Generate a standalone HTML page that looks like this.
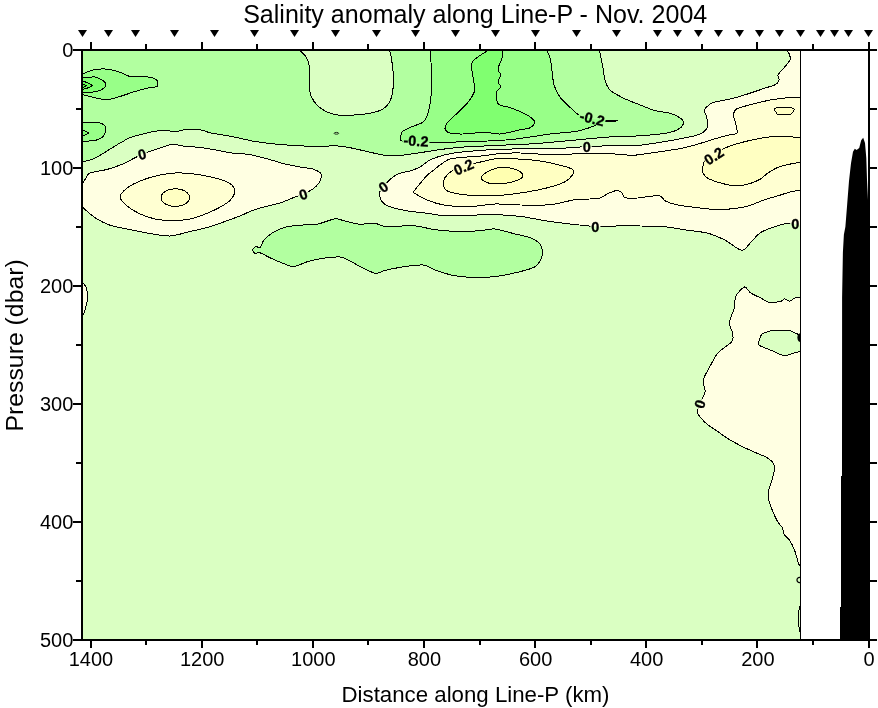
<!DOCTYPE html>
<html><head><meta charset="utf-8"><title>Salinity anomaly along Line-P</title>
<style>html,body{margin:0;padding:0;background:#fff}svg{display:block}</style></head>
<body>
<svg width="878" height="708" viewBox="0 0 878 708" style="display:block">
<rect width="878" height="708" fill="#fff"/>
<defs><clipPath id="cp"><rect x="83" y="51" width="717" height="588"/></clipPath>
<mask id="mk" maskUnits="userSpaceOnUse" x="0" y="0" width="878" height="708"><rect width="878" height="708" fill="#fff"/><rect x="137.0" y="149.3" width="10" height="10" fill="#000" transform="rotate(-15 142 154.3)"/><rect x="298.2" y="189.4" width="10" height="10" fill="#000" transform="rotate(-18 303.2 194.4)"/><rect x="378.4" y="181.9" width="10" height="10" fill="#000" transform="rotate(-35 383.4 186.9)"/><rect x="402.5" y="135.8" width="27" height="10" fill="#000" transform="rotate(3 416 140.8)"/><rect x="578.7" y="113.3" width="27" height="10" fill="#000" transform="rotate(14 592.2 118.3)"/><rect x="453.0" y="162.0" width="21" height="10" fill="#000" transform="rotate(-24 463.5 167)"/><rect x="581.7" y="141.8" width="10" height="10" fill="#000" transform="rotate(0 586.7 146.8)"/><rect x="590.4" y="221.5" width="10" height="10" fill="#000" transform="rotate(0 595.4 226.5)"/><rect x="703.3" y="151.0" width="21" height="10" fill="#000" transform="rotate(-33 713.8 156)"/><rect x="790.2" y="218.9" width="10" height="10" fill="#000" transform="rotate(0 795.2 223.9)"/><rect x="694.9" y="399.0" width="10" height="10" fill="#000" transform="rotate(-72 699.9 404)"/></mask></defs>
<g clip-path="url(#cp)">
<rect x="83" y="51" width="717" height="588" fill="#daffc2"/>
<path d="M83.0 162.0C84.4 161.6 90.9 159.7 93.3 158.8C95.7 157.9 97.6 156.7 100.0 155.3C102.4 153.9 107.7 150.6 110.2 149.0C112.7 147.4 116.0 145.4 118.0 144.2C120.0 143.0 122.7 141.5 124.4 140.6C126.1 139.7 126.4 138.8 130.0 137.6C133.6 136.4 145.4 133.3 150.0 132.3C154.6 131.3 159.4 130.4 163.0 130.3C166.6 130.2 172.2 131.7 175.4 131.6C178.6 131.5 182.0 129.9 185.5 129.6C189.0 129.3 197.1 129.4 200.5 129.8C203.9 130.2 206.6 132.0 210.0 132.8C213.4 133.6 220.8 134.5 225.0 135.3C229.2 136.1 235.8 137.4 240.0 138.3C244.2 139.2 250.1 140.7 255.0 141.5C259.9 142.3 268.7 143.4 275.0 144.0C281.3 144.6 293.7 145.5 300.0 145.8C306.3 146.2 315.4 146.5 320.3 146.5C325.2 146.5 331.1 145.6 335.3 145.8C339.5 146.0 345.5 146.9 350.4 147.8C355.3 148.7 365.5 151.2 370.4 152.3C375.3 153.4 381.3 154.9 385.5 155.3C389.7 155.7 395.7 155.8 400.5 155.4C405.3 155.0 414.5 153.5 420.0 152.7C425.5 151.9 434.4 150.4 440.0 149.6C445.6 148.8 452.3 147.9 460.0 147.3C467.7 146.7 484.8 146.0 495.0 145.5C505.2 145.0 523.7 144.4 532.8 143.8C541.9 143.2 553.4 142.1 560.0 141.5C566.6 140.9 572.9 140.2 579.8 139.6C586.7 139.0 601.1 137.5 609.5 137.0C617.9 136.5 632.2 136.3 640.0 135.8C647.8 135.3 659.9 134.2 665.2 133.3C670.5 132.4 675.2 131.0 677.7 129.7C680.2 128.4 682.7 125.5 683.2 124.0C683.7 122.5 683.3 120.5 681.5 119.0C679.7 117.5 673.9 114.4 670.2 113.2C666.5 112.0 659.8 112.0 655.2 110.7C650.6 109.4 642.2 105.8 637.6 104.0C633.0 102.2 626.5 99.7 622.6 97.7C618.7 95.7 612.5 92.5 610.0 90.0C607.5 87.5 606.0 83.5 605.0 80.0C604.0 76.5 603.3 69.1 602.5 65.0C601.7 60.9 599.9 52.5 599.5 50.5L599.5 50.5L83.0 50.5Z" fill="#b2ffa0"/>
<path d="M300.2 50.5C301.1 51.5 305.2 55.2 306.5 57.6C307.8 60.0 309.1 63.1 309.5 67.6C309.9 72.1 308.9 85.3 309.5 90.0C310.1 94.7 312.1 98.6 314.0 101.4C315.9 104.2 319.8 107.8 322.8 109.7C325.8 111.6 331.4 113.9 335.3 114.7C339.2 115.5 345.5 115.4 350.4 115.2C355.3 115.0 365.8 114.1 370.4 113.2C375.0 112.3 380.4 110.5 383.0 109.0C385.6 107.5 387.9 105.0 389.2 102.7C390.5 100.4 391.9 96.2 392.5 92.7C393.1 89.2 393.6 82.2 393.5 77.6C393.4 73.0 392.2 63.8 391.7 60.0C391.2 56.2 390.0 51.8 389.7 50.5Z" fill="#daffc2"/>
<path d="M430.0 50.5C430.2 52.9 431.1 61.7 431.3 67.6C431.5 73.5 431.7 86.7 431.3 92.7C430.9 98.7 429.9 106.2 428.8 110.2C427.8 114.2 426.1 119.2 423.8 121.5C421.5 123.8 415.5 125.1 412.5 126.5C409.5 127.9 404.1 129.9 402.5 131.5C400.9 133.1 400.7 136.4 400.8 137.8C400.9 139.2 398.9 140.6 403.0 141.2C407.1 141.8 419.9 142.3 430.0 142.3C440.1 142.3 463.6 141.9 475.2 141.5C486.8 141.1 502.3 140.5 512.8 139.4C523.3 138.3 541.6 135.1 550.4 134.0C559.2 132.9 569.9 132.4 575.4 131.5C580.9 130.6 587.0 128.5 590.0 127.5C593.0 126.5 594.6 125.5 596.6 124.7C598.6 123.9 602.2 122.4 604.5 121.9C606.8 121.4 611.8 121.4 613.0 121.3L613.0 121.3L617.5 120.9L613.0 120.3L613.0 120.3C611.2 120.2 603.2 120.1 600.0 119.8C596.8 119.5 593.1 119.3 590.0 118.5C586.9 117.7 580.5 115.8 577.8 114.3C575.1 112.8 572.8 110.0 570.4 107.7C568.0 105.4 562.7 100.9 560.4 97.7C558.1 94.5 555.2 89.2 554.0 85.0C552.8 80.8 552.2 71.4 551.6 67.6C551.0 63.8 550.7 60.0 550.0 57.6C549.3 55.2 547.1 51.5 546.6 50.5Z" fill="#98ff88"/>
<path d="M487.7 50.5C485.6 52.0 474.9 58.2 472.7 61.3C470.5 64.4 471.9 68.6 472.2 72.6C472.5 76.6 475.3 85.8 474.7 90.0C474.1 94.2 470.4 99.2 467.7 102.7C465.0 106.2 458.1 112.2 455.1 115.2C452.1 118.2 447.8 122.1 446.4 124.0C445.0 125.9 444.8 127.8 445.1 129.0C445.5 130.2 446.4 132.1 448.9 132.8C451.4 133.5 457.6 134.1 462.7 134.0C467.8 133.9 479.9 132.3 485.2 132.3C490.5 132.3 495.7 134.3 500.3 134.0C504.9 133.7 513.6 131.2 517.8 130.3C522.0 129.4 527.9 128.9 530.3 127.7C532.7 126.5 535.3 123.4 534.6 121.5C533.9 119.6 528.7 115.9 525.3 114.0C521.9 112.1 514.1 109.1 510.3 107.7C506.5 106.3 500.2 106.2 498.3 104.0C496.4 101.8 496.2 94.7 496.5 92.3C496.8 89.9 500.4 88.3 500.6 86.8C500.8 85.3 498.0 83.4 498.0 81.7C498.0 80.0 500.6 76.6 500.6 74.8C500.6 73.0 497.8 71.3 498.0 68.9C498.2 66.5 501.4 60.6 502.0 58.0C502.6 55.4 502.0 51.5 502.0 50.5Z" fill="#80ff70"/>
<path d="M83.0 74.0C84.4 73.4 89.6 70.7 92.7 70.0C95.8 69.3 101.5 68.8 105.0 69.0C108.5 69.2 114.5 70.5 118.0 71.5C121.5 72.5 126.5 75.8 130.0 76.5C133.5 77.2 139.8 76.3 143.0 76.5C146.2 76.7 151.0 77.4 153.0 78.0C155.0 78.6 156.4 79.3 157.0 80.5C157.6 81.7 158.3 85.5 157.0 86.5C155.7 87.5 151.1 87.3 148.0 88.0C144.9 88.7 138.9 90.3 135.0 91.5C131.1 92.7 123.8 95.4 120.0 96.5C116.2 97.6 111.1 99.2 108.0 99.5C104.9 99.8 101.5 99.2 98.0 98.5C94.5 97.8 85.1 95.2 83.0 94.7Z" fill="#98ff88"/>
<path d="M83.0 78.0C84.7 77.9 92.2 76.6 95.0 77.0C97.8 77.4 101.5 79.6 103.0 80.7C104.5 81.8 106.2 83.7 106.0 85.0C105.8 86.3 103.3 88.7 101.5 89.7C99.7 90.7 95.6 91.7 93.0 92.0C90.4 92.3 84.4 92.0 83.0 92.0Z" fill="#80ff70"/>
<path d="M83.0 81.2L88.0 82.8L92.7 85.8L88.0 87.9L83.0 89.2Z" fill="#68ff58"/>
<path d="M83.0 84.2L86.2 85.8L83.0 87.4Z" fill="#50ff40"/>
<path d="M83.0 122.8C84.9 122.7 93.6 122.0 96.5 122.3C99.4 122.6 102.7 123.8 104.0 124.8C105.3 125.8 105.9 128.1 105.8 129.8C105.7 131.5 104.3 135.2 103.0 136.6C101.7 138.0 99.3 139.3 96.5 140.0C93.7 140.7 84.9 141.4 83.0 141.6Z" fill="#98ff88"/>
<path d="M83.0 130.0L88.7 133.0L83.0 136.2Z" fill="#80ff70"/>
<path d="M83.0 183.0C83.5 182.2 85.3 179.0 86.3 177.6C87.3 176.2 87.0 174.2 90.0 173.0C93.0 171.8 103.0 170.6 107.6 169.3C112.2 168.0 119.1 165.5 122.7 164.0C126.3 162.5 130.3 160.2 133.0 158.8C135.7 157.4 139.6 155.4 142.0 154.3C144.4 153.2 147.3 152.3 150.2 151.3C153.1 150.3 159.6 148.0 162.8 147.0C166.0 146.0 169.7 144.4 172.8 144.3C176.0 144.2 181.5 145.9 185.3 146.3C189.1 146.7 195.8 147.0 200.0 147.5C204.2 148.0 210.8 149.1 215.0 149.8C219.2 150.5 225.1 152.1 230.0 152.8C234.9 153.5 244.7 153.7 250.0 154.6C255.3 155.5 262.8 157.7 267.7 159.0C272.6 160.3 280.5 162.9 285.0 164.0C289.5 165.1 296.1 166.3 300.0 167.0C303.9 167.7 310.0 168.2 312.8 169.0C315.6 169.8 319.1 171.8 320.3 172.9C321.5 174.0 321.7 175.2 321.5 176.6C321.3 178.0 320.2 181.2 319.0 182.9C317.8 184.6 315.0 187.4 312.8 189.0C310.6 190.6 305.7 193.3 303.2 194.4C300.7 195.5 298.2 195.8 295.0 197.0C291.8 198.2 284.9 201.5 280.0 203.0C275.1 204.5 264.2 206.8 260.0 208.0C255.8 209.2 252.8 210.4 250.0 211.5C247.2 212.6 242.7 214.9 240.0 216.0C237.3 217.1 234.5 218.0 230.4 219.5C226.3 221.0 216.0 224.8 210.4 226.5C204.8 228.2 195.9 230.2 190.3 231.5C184.7 232.8 175.6 235.7 170.3 236.0C165.0 236.3 158.0 234.8 152.7 234.0C147.4 233.2 138.7 231.4 132.7 230.2C126.7 229.0 115.3 226.9 110.0 225.2C104.7 223.4 98.8 220.1 95.0 217.7C91.2 215.2 84.7 209.1 83.0 207.7Z" fill="#ffffe2"/>
<path d="M120.0 197.0C120.0 194.4 124.5 190.0 127.7 187.6C130.9 185.2 138.1 181.8 142.7 180.0C147.3 178.2 155.7 176.0 160.3 175.0C164.9 174.0 170.8 173.2 175.3 173.0C179.9 172.8 187.2 173.1 192.8 173.8C198.4 174.5 210.1 176.6 215.4 178.0C220.7 179.4 227.7 182.0 230.4 183.9C233.1 185.8 234.7 189.1 234.7 191.4C234.7 193.7 232.4 197.8 230.4 200.0C228.4 202.2 223.9 205.0 220.4 207.0C216.9 209.0 209.6 212.3 205.4 214.0C201.2 215.7 194.9 218.1 190.3 219.0C185.7 219.9 177.7 220.7 172.8 220.7C167.9 220.7 159.8 219.9 155.2 219.0C150.6 218.1 144.0 215.8 140.2 214.0C136.3 212.2 130.5 208.8 127.7 206.4C124.9 204.0 120.0 199.6 120.0 197.0Z" fill="#ffffd2"/>
<path d="M189.6 197.6C189.6 198.8 188.7 200.9 187.7 202.0C186.7 203.1 184.2 204.6 182.5 205.2C180.7 205.8 177.3 206.4 175.3 206.4C173.3 206.4 169.9 205.8 168.2 205.2C166.4 204.6 163.9 203.1 162.9 202.0C161.9 200.9 161.0 198.8 161.0 197.6C161.0 196.4 161.9 194.3 162.9 193.2C163.9 192.1 166.4 190.6 168.2 190.0C169.9 189.4 173.3 188.8 175.3 188.8C177.3 188.8 180.7 189.4 182.5 190.0C184.2 190.6 186.7 192.1 187.7 193.2C188.7 194.3 189.6 196.4 189.6 197.6Z" fill="#ffffc2"/>
<path d="M379.0 193.0C379.6 192.1 382.2 188.5 383.4 186.9C384.6 185.3 385.9 183.2 387.9 181.4C389.9 179.6 394.8 175.5 398.0 174.0C401.2 172.5 407.4 171.8 410.5 170.8C413.6 169.8 417.3 168.5 420.0 167.0C422.7 165.5 426.5 161.7 430.0 160.0C433.5 158.3 440.8 155.9 445.0 154.8C449.2 153.7 453.0 152.9 460.0 152.2C467.0 151.5 484.8 150.0 495.0 149.5C505.2 149.0 523.7 148.8 532.8 148.6C541.9 148.4 553.4 148.5 560.0 148.3C566.6 148.1 576.1 147.2 579.8 147.0C583.5 146.8 584.2 147.0 586.7 146.9C589.2 146.8 594.0 146.4 598.0 146.2C602.0 146.0 609.1 145.7 615.0 145.6C620.9 145.5 633.0 145.8 640.0 145.2C647.0 144.6 658.9 142.5 665.2 141.5C671.5 140.5 680.3 138.9 685.2 137.8C690.1 136.8 697.1 135.6 700.3 134.0C703.5 132.4 706.9 128.9 707.8 126.5C708.7 124.0 707.0 118.9 706.5 116.5C706.0 114.1 703.6 111.6 704.5 109.7C705.4 107.8 709.2 104.2 712.8 102.7C716.4 101.2 725.8 100.1 730.4 99.0C735.0 97.9 740.5 96.2 745.4 94.7C750.3 93.2 761.2 89.4 765.4 88.0C769.6 86.6 773.6 85.7 775.5 84.6C777.4 83.5 778.9 81.3 779.2 80.0C779.6 78.7 777.3 76.7 778.0 75.0C778.7 73.3 782.5 69.7 784.2 67.6C785.9 65.5 789.3 61.9 790.0 60.0C790.7 58.1 789.7 55.1 789.2 53.8C788.7 52.5 787.1 51.0 786.7 50.5L786.7 50.5L800.5 50.5L800.5 224.9L800.5 224.9C799.8 224.8 797.2 224.4 795.5 224.2C793.8 224.0 790.8 222.9 788.0 223.2C785.2 223.5 779.3 225.2 775.4 226.5C771.5 227.8 763.9 230.4 760.4 232.7C756.9 235.0 753.0 240.3 750.4 242.8C747.8 245.3 745.1 250.7 741.6 250.3C738.1 250.0 730.0 242.7 725.3 240.3C720.6 237.9 713.1 234.6 707.8 233.2C702.5 231.8 694.0 231.1 687.7 230.2C681.4 229.3 669.4 227.1 662.7 226.5C656.0 225.9 645.3 226.1 640.0 226.0C634.7 225.9 630.0 225.6 625.0 225.7C620.0 225.8 608.1 226.4 604.0 226.5C599.9 226.6 600.1 226.8 595.4 226.5C590.7 226.2 577.4 224.8 570.4 224.0C563.4 223.2 552.3 221.8 545.3 220.7C538.3 219.6 527.3 217.2 520.3 216.4C513.3 215.6 502.0 214.9 495.0 214.7C488.0 214.5 477.0 215.1 470.0 215.2C463.0 215.3 450.5 215.9 445.0 215.7C439.5 215.5 434.0 214.2 430.5 213.7C427.0 213.2 423.5 212.8 420.0 212.4C416.5 212.0 409.9 211.5 405.4 210.6C400.9 209.7 391.2 207.3 387.9 206.0C384.6 204.7 382.8 202.8 381.6 201.0C380.4 199.2 379.4 194.1 379.0 193.0Z" fill="#ffffe2"/>
<path d="M413.0 192.4C414.3 190.7 420.6 182.8 422.6 180.4C424.6 178.0 425.8 176.6 427.5 175.0C429.2 173.4 433.2 170.4 435.0 169.0C436.8 167.6 437.9 166.4 440.0 165.0C442.1 163.6 445.8 160.1 450.0 159.0C454.2 157.9 465.4 157.2 470.0 156.8C474.6 156.4 478.5 156.3 482.7 155.9C486.9 155.5 495.0 154.0 500.3 153.6C505.6 153.2 515.0 152.9 520.3 153.0C525.5 153.1 532.2 153.8 537.8 154.0C543.4 154.2 554.7 154.3 560.0 154.3C565.3 154.3 570.4 154.0 575.4 153.9C580.4 153.8 589.9 153.9 595.4 153.9C600.9 153.9 609.7 153.8 615.0 154.0C620.3 154.2 627.7 155.5 633.0 155.3C638.3 155.1 646.4 153.7 652.7 152.8C659.0 151.9 672.5 149.9 677.7 149.0C682.9 148.1 686.5 147.3 690.0 146.4C693.5 145.5 699.3 143.7 702.8 142.6C706.3 141.5 711.4 139.9 715.0 138.8C718.6 137.7 725.6 135.8 728.7 135.0C731.8 134.2 736.1 134.5 737.0 132.8C737.9 131.1 735.9 125.2 735.4 122.7C734.9 120.2 733.2 117.1 733.4 115.2C733.6 113.3 734.2 110.5 736.6 109.0C739.0 107.5 745.7 106.0 750.4 104.7C755.1 103.4 765.6 100.9 770.5 100.0C775.4 99.1 781.3 98.3 785.5 98.0C789.7 97.7 798.4 97.7 800.5 97.7L800.5 97.7L800.5 190.0L800.5 190.0C799.1 190.3 793.3 191.2 790.5 191.9C787.7 192.6 784.0 193.9 780.5 195.0C777.0 196.1 770.3 197.9 765.4 199.5C760.5 201.1 751.7 205.3 745.4 206.7C739.1 208.1 726.6 209.5 720.3 209.7C714.0 209.9 706.3 208.7 700.3 208.0C694.3 207.3 682.6 206.0 677.7 205.0C672.8 204.0 667.8 202.2 665.2 200.9C662.6 199.6 662.8 196.0 658.9 195.6C655.0 195.2 642.3 197.7 637.6 198.0C632.9 198.3 627.3 198.4 625.0 197.6C622.7 196.8 622.7 192.9 621.3 192.0C619.9 191.1 616.9 190.6 615.0 190.9C613.1 191.2 609.6 192.9 607.5 193.9C605.4 194.9 602.5 197.3 600.0 198.0C597.5 198.7 593.4 198.8 590.0 199.0C586.6 199.2 581.0 198.8 575.4 199.6C569.8 200.4 558.0 203.9 550.3 204.7C542.6 205.5 528.0 205.1 520.3 205.0C512.6 204.9 502.0 203.8 495.0 204.0C488.0 204.2 477.0 206.5 470.0 206.7C463.0 206.9 450.9 206.1 445.0 205.2C439.1 204.3 432.1 202.1 427.6 200.3C423.1 198.5 415.0 193.5 413.0 192.4Z" fill="#ffffd2"/>
<path d="M443.3 185.0C443.1 183.2 443.7 179.6 445.0 177.6C446.3 175.6 450.1 172.0 452.6 170.4C455.1 168.8 459.8 167.0 463.0 166.0C466.2 165.0 472.1 163.9 475.2 163.2C478.3 162.5 482.2 161.6 485.0 161.0C487.8 160.4 490.6 159.2 495.2 158.9C499.8 158.6 511.5 158.7 517.8 159.0C524.1 159.3 534.4 160.1 540.4 161.0C546.4 161.9 556.0 164.2 560.4 165.3C564.8 166.4 570.0 167.8 571.7 169.0C573.5 170.2 573.8 172.2 572.9 174.0C572.0 175.8 568.6 179.8 565.4 181.6C562.2 183.4 555.2 185.6 550.3 187.0C545.4 188.4 536.6 190.3 530.3 191.4C524.0 192.5 512.2 194.3 505.2 194.9C498.2 195.5 486.9 196.1 480.2 195.9C473.5 195.7 462.3 194.6 457.6 193.8C452.9 193.0 448.3 191.6 446.3 190.4C444.3 189.2 443.5 186.8 443.3 185.0Z" fill="#ffffc2"/>
<path d="M481.5 177.9C481.5 176.5 483.9 173.9 486.5 172.4C489.1 170.9 496.6 167.8 500.3 167.3C504.0 166.8 509.8 167.8 512.8 168.6C515.8 169.4 520.4 171.6 521.6 172.9C522.8 174.2 523.2 176.6 521.6 177.9C520.0 179.2 513.6 181.5 510.3 182.4C507.0 183.3 501.0 184.0 497.7 184.0C494.4 184.0 488.8 183.3 486.5 182.4C484.2 181.5 481.5 179.3 481.5 177.9Z" fill="#ffffb0"/>
<path d="M800.5 137.3C797.0 137.2 781.1 136.4 775.5 136.5C769.9 136.6 765.3 137.4 760.4 138.3C755.5 139.2 745.7 141.3 740.4 142.8C735.1 144.3 726.7 147.2 722.8 149.0C718.9 150.8 715.4 153.6 712.8 155.3C710.2 157.0 705.9 159.4 704.5 161.0C703.1 162.6 703.0 165.3 702.8 167.0C702.6 168.7 702.3 171.4 703.0 173.0C703.7 174.6 705.4 176.8 707.8 178.2C710.2 179.6 716.4 181.8 720.3 182.9C724.2 184.0 731.2 185.8 735.4 185.9C739.6 186.0 746.9 184.4 750.4 183.4C753.9 182.4 757.9 180.5 760.4 179.0C762.9 177.5 765.5 174.5 768.0 172.9C770.5 171.3 774.9 168.5 778.0 167.3C781.1 166.1 787.4 164.7 790.5 164.0C793.6 163.3 799.1 162.5 800.5 162.3Z" fill="#ffffc2"/>
<path d="M774.2 109.2C774.2 108.8 777.2 107.3 778.0 107.2C778.8 107.1 789.7 107.1 790.5 107.2C791.3 107.3 794.3 109.3 794.3 109.7C794.3 110.1 791.3 114.5 790.5 114.7C789.7 115.0 778.8 115.0 778.0 114.7C777.2 114.4 774.2 109.6 774.2 109.2Z" fill="#ffffc2"/>
<path d="M252.5 249.8C252.7 248.8 255.2 246.8 256.3 246.5C257.4 246.2 258.9 248.7 260.0 247.8C261.1 246.9 262.0 242.4 263.8 240.3C265.6 238.2 269.6 234.5 272.6 232.7C275.6 230.9 281.2 228.2 285.0 227.2C288.8 226.1 295.4 225.6 300.0 225.2C304.6 224.8 312.9 224.9 317.7 224.0C322.5 223.1 330.8 219.6 334.0 219.0C337.2 218.4 337.0 219.0 340.3 219.7C343.6 220.4 352.9 223.5 357.8 224.0C362.7 224.5 371.4 223.2 375.3 223.5C379.2 223.8 380.5 226.2 385.4 226.5C390.3 226.8 405.6 225.7 410.4 225.7C415.2 225.7 416.6 225.9 420.0 226.5C423.4 227.1 429.4 229.0 435.0 229.7C440.6 230.4 453.7 231.4 460.0 231.5C466.3 231.6 475.1 231.0 480.0 230.7C484.9 230.3 490.1 228.5 495.0 229.0C499.9 229.5 510.3 232.8 515.2 234.0C520.1 235.2 527.0 236.5 530.3 237.7C533.6 238.9 537.3 241.0 539.0 242.8C540.7 244.6 542.0 248.0 542.3 250.3C542.6 252.6 542.0 256.7 541.0 259.0C540.0 261.3 538.2 264.8 535.3 266.6C532.4 268.4 525.9 270.2 520.3 271.6C514.7 273.0 502.0 275.8 495.0 276.6C488.0 277.4 475.9 277.5 470.0 277.3C464.1 277.1 457.4 276.3 452.6 275.3C447.8 274.3 439.3 271.7 435.5 270.3C431.7 268.9 428.3 266.0 425.5 265.3C422.7 264.6 418.9 265.0 415.4 265.3C411.9 265.6 404.6 266.6 400.4 267.3C396.2 268.0 388.9 269.5 385.4 270.3C381.9 271.1 378.8 273.8 375.3 273.3C371.8 272.8 364.2 268.5 360.3 266.6C356.4 264.7 350.6 261.1 347.8 259.8C345.0 258.5 343.8 257.2 340.3 257.0C336.8 256.8 327.3 257.7 322.7 258.3C318.1 258.9 311.4 260.5 307.7 261.6C304.0 262.7 298.9 265.4 296.4 266.0C293.9 266.6 293.3 267.0 290.0 266.0C286.7 265.0 276.8 260.8 272.6 259.0C268.4 257.2 262.5 253.6 260.0 252.8C257.5 252.0 256.1 253.7 255.0 253.3C253.9 252.9 252.3 250.8 252.5 249.8Z" fill="#b2ffa0"/>
<path d="M800.5 297.0C799.7 297.1 796.1 297.4 794.6 298.0C793.1 298.6 791.0 301.2 789.6 301.3C788.2 301.4 785.8 298.8 784.6 298.8C783.4 298.8 782.9 300.8 780.8 301.3C778.7 301.8 772.3 303.1 769.5 302.6C766.7 302.1 763.4 299.3 760.8 298.0C758.2 296.7 753.0 294.5 750.7 293.0C748.4 291.5 746.6 286.5 744.5 287.0C742.4 287.5 737.1 293.4 735.7 296.3C734.3 299.2 735.3 303.9 734.4 307.6C733.5 311.3 729.7 319.1 729.4 322.6C729.1 326.1 732.0 330.1 732.4 332.7C732.8 335.3 734.0 338.6 732.0 341.4C730.0 344.2 721.2 349.4 718.2 352.7C715.2 356.0 712.7 361.3 710.6 365.2C708.5 369.1 703.9 376.6 703.1 380.3C702.3 384.0 705.5 388.2 705.1 391.5C704.7 394.8 700.9 401.0 699.9 404.0C698.9 407.0 696.8 410.3 697.6 412.9C698.4 415.5 703.1 420.5 705.6 422.9C708.1 425.3 712.4 427.8 715.6 430.0C718.8 432.2 724.3 436.4 728.2 438.8C732.1 441.2 739.0 444.9 743.2 447.0C747.4 449.1 755.1 452.4 758.3 453.8C761.5 455.2 763.8 455.8 765.8 457.0C767.8 458.2 771.6 460.9 772.8 462.6C774.0 464.3 774.6 466.4 774.5 468.8C774.4 471.2 772.8 477.0 772.0 480.0C771.2 483.0 769.2 487.2 768.8 490.0C768.4 492.8 768.2 496.8 768.8 500.0C769.4 503.2 772.0 509.5 773.3 512.7C774.6 515.9 777.0 520.6 778.3 522.7C779.6 524.8 781.8 526.1 782.6 527.7C783.4 529.3 782.8 532.2 783.8 534.0C784.8 535.8 788.1 538.0 789.6 540.3C791.1 542.6 793.4 547.1 794.6 550.3C795.8 553.4 797.5 560.5 798.3 562.8C799.1 565.1 800.2 566.1 800.5 566.6Z" fill="#ffffe2"/>
<path d="M800.5 335.0C800.3 334.9 797.9 334.2 797.1 333.9C796.3 333.6 789.9 330.4 788.3 330.2C786.7 330.0 775.1 330.0 773.3 330.2C771.5 330.4 763.0 332.9 762.0 333.9C761.0 334.9 757.7 343.6 758.3 344.7C758.9 345.8 769.0 349.4 770.8 350.2C772.6 351.0 783.0 355.8 784.6 356.0C786.2 356.2 793.5 353.0 794.6 352.7C795.7 352.4 800.1 351.6 800.5 351.5Z" fill="#daffc2"/>
<path d="M83.0 282.9C83.5 283.6 85.7 285.8 86.3 287.9C86.9 290.0 87.8 294.8 87.6 297.9C87.4 301.0 85.6 307.9 85.0 310.4C84.4 312.8 83.3 314.7 83.0 315.4Z" fill="#ffffe2"/>
<g mask="url(#mk)" fill="none" stroke="#000" stroke-width="1" stroke-linejoin="round" shape-rendering="crispEdges">
<path d="M83.0 162.0C84.4 161.6 90.9 159.7 93.3 158.8C95.7 157.9 97.6 156.7 100.0 155.3C102.4 153.9 107.7 150.6 110.2 149.0C112.7 147.4 116.0 145.4 118.0 144.2C120.0 143.0 122.7 141.5 124.4 140.6C126.1 139.7 126.4 138.8 130.0 137.6C133.6 136.4 145.4 133.3 150.0 132.3C154.6 131.3 159.4 130.4 163.0 130.3C166.6 130.2 172.2 131.7 175.4 131.6C178.6 131.5 182.0 129.9 185.5 129.6C189.0 129.3 197.1 129.4 200.5 129.8C203.9 130.2 206.6 132.0 210.0 132.8C213.4 133.6 220.8 134.5 225.0 135.3C229.2 136.1 235.8 137.4 240.0 138.3C244.2 139.2 250.1 140.7 255.0 141.5C259.9 142.3 268.7 143.4 275.0 144.0C281.3 144.6 293.7 145.5 300.0 145.8C306.3 146.2 315.4 146.5 320.3 146.5C325.2 146.5 331.1 145.6 335.3 145.8C339.5 146.0 345.5 146.9 350.4 147.8C355.3 148.7 365.5 151.2 370.4 152.3C375.3 153.4 381.3 154.9 385.5 155.3C389.7 155.7 395.7 155.8 400.5 155.4C405.3 155.0 414.5 153.5 420.0 152.7C425.5 151.9 434.4 150.4 440.0 149.6C445.6 148.8 452.3 147.9 460.0 147.3C467.7 146.7 484.8 146.0 495.0 145.5C505.2 145.0 523.7 144.4 532.8 143.8C541.9 143.2 553.4 142.1 560.0 141.5C566.6 140.9 572.9 140.2 579.8 139.6C586.7 139.0 601.1 137.5 609.5 137.0C617.9 136.5 632.2 136.3 640.0 135.8C647.8 135.3 659.9 134.2 665.2 133.3C670.5 132.4 675.2 131.0 677.7 129.7C680.2 128.4 682.7 125.5 683.2 124.0C683.7 122.5 683.3 120.5 681.5 119.0C679.7 117.5 673.9 114.4 670.2 113.2C666.5 112.0 659.8 112.0 655.2 110.7C650.6 109.4 642.2 105.8 637.6 104.0C633.0 102.2 626.5 99.7 622.6 97.7C618.7 95.7 612.5 92.5 610.0 90.0C607.5 87.5 606.0 83.5 605.0 80.0C604.0 76.5 603.3 69.1 602.5 65.0C601.7 60.9 599.9 52.5 599.5 50.5"/>
<path d="M300.2 50.5C301.1 51.5 305.2 55.2 306.5 57.6C307.8 60.0 309.1 63.1 309.5 67.6C309.9 72.1 308.9 85.3 309.5 90.0C310.1 94.7 312.1 98.6 314.0 101.4C315.9 104.2 319.8 107.8 322.8 109.7C325.8 111.6 331.4 113.9 335.3 114.7C339.2 115.5 345.5 115.4 350.4 115.2C355.3 115.0 365.8 114.1 370.4 113.2C375.0 112.3 380.4 110.5 383.0 109.0C385.6 107.5 387.9 105.0 389.2 102.7C390.5 100.4 391.9 96.2 392.5 92.7C393.1 89.2 393.6 82.2 393.5 77.6C393.4 73.0 392.2 63.8 391.7 60.0C391.2 56.2 390.0 51.8 389.7 50.5"/>
<path d="M430.0 50.5C430.2 52.9 431.1 61.7 431.3 67.6C431.5 73.5 431.7 86.7 431.3 92.7C430.9 98.7 429.9 106.2 428.8 110.2C427.8 114.2 426.1 119.2 423.8 121.5C421.5 123.8 415.5 125.1 412.5 126.5C409.5 127.9 404.1 129.9 402.5 131.5C400.9 133.1 400.7 136.4 400.8 137.8C400.9 139.2 398.9 140.6 403.0 141.2C407.1 141.8 419.9 142.3 430.0 142.3C440.1 142.3 463.6 141.9 475.2 141.5C486.8 141.1 502.3 140.5 512.8 139.4C523.3 138.3 541.6 135.1 550.4 134.0C559.2 132.9 569.9 132.4 575.4 131.5C580.9 130.6 587.0 128.5 590.0 127.5C593.0 126.5 594.6 125.5 596.6 124.7C598.6 123.9 602.2 122.4 604.5 121.9C606.8 121.4 611.8 121.4 613.0 121.3"/>
<path d="M613.0 120.3C611.2 120.2 603.2 120.1 600.0 119.8C596.8 119.5 593.1 119.3 590.0 118.5C586.9 117.7 580.5 115.8 577.8 114.3C575.1 112.8 572.8 110.0 570.4 107.7C568.0 105.4 562.7 100.9 560.4 97.7C558.1 94.5 555.2 89.2 554.0 85.0C552.8 80.8 552.2 71.4 551.6 67.6C551.0 63.8 550.7 60.0 550.0 57.6C549.3 55.2 547.1 51.5 546.6 50.5"/>
<path d="M613 121.3L617.5 120.9L613 120.3"/>
<path d="M487.7 50.5C485.6 52.0 474.9 58.2 472.7 61.3C470.5 64.4 471.9 68.6 472.2 72.6C472.5 76.6 475.3 85.8 474.7 90.0C474.1 94.2 470.4 99.2 467.7 102.7C465.0 106.2 458.1 112.2 455.1 115.2C452.1 118.2 447.8 122.1 446.4 124.0C445.0 125.9 444.8 127.8 445.1 129.0C445.5 130.2 446.4 132.1 448.9 132.8C451.4 133.5 457.6 134.1 462.7 134.0C467.8 133.9 479.9 132.3 485.2 132.3C490.5 132.3 495.7 134.3 500.3 134.0C504.9 133.7 513.6 131.2 517.8 130.3C522.0 129.4 527.9 128.9 530.3 127.7C532.7 126.5 535.3 123.4 534.6 121.5C533.9 119.6 528.7 115.9 525.3 114.0C521.9 112.1 514.1 109.1 510.3 107.7C506.5 106.3 500.2 106.2 498.3 104.0C496.4 101.8 496.2 94.7 496.5 92.3C496.8 89.9 500.4 88.3 500.6 86.8C500.8 85.3 498.0 83.4 498.0 81.7C498.0 80.0 500.6 76.6 500.6 74.8C500.6 73.0 497.8 71.3 498.0 68.9C498.2 66.5 501.4 60.6 502.0 58.0C502.6 55.4 502.0 51.5 502.0 50.5"/>
<path d="M83.0 74.0C84.4 73.4 89.6 70.7 92.7 70.0C95.8 69.3 101.5 68.8 105.0 69.0C108.5 69.2 114.5 70.5 118.0 71.5C121.5 72.5 126.5 75.8 130.0 76.5C133.5 77.2 139.8 76.3 143.0 76.5C146.2 76.7 151.0 77.4 153.0 78.0C155.0 78.6 156.4 79.3 157.0 80.5C157.6 81.7 158.3 85.5 157.0 86.5C155.7 87.5 151.1 87.3 148.0 88.0C144.9 88.7 138.9 90.3 135.0 91.5C131.1 92.7 123.8 95.4 120.0 96.5C116.2 97.6 111.1 99.2 108.0 99.5C104.9 99.8 101.5 99.2 98.0 98.5C94.5 97.8 85.1 95.2 83.0 94.7"/>
<path d="M83.0 78.0C84.7 77.9 92.2 76.6 95.0 77.0C97.8 77.4 101.5 79.6 103.0 80.7C104.5 81.8 106.2 83.7 106.0 85.0C105.8 86.3 103.3 88.7 101.5 89.7C99.7 90.7 95.6 91.7 93.0 92.0C90.4 92.3 84.4 92.0 83.0 92.0"/>
<path d="M83 81.2L88 82.8L92.7 85.8L88 87.9L83 89.2"/>
<path d="M83 84.2L86.2 85.8L83 87.4"/>
<path d="M83.0 122.8C84.9 122.7 93.6 122.0 96.5 122.3C99.4 122.6 102.7 123.8 104.0 124.8C105.3 125.8 105.9 128.1 105.8 129.8C105.7 131.5 104.3 135.2 103.0 136.6C101.7 138.0 99.3 139.3 96.5 140.0C93.7 140.7 84.9 141.4 83.0 141.6"/>
<path d="M83 130L88.7 133L83 136.2"/>
<path d="M83.0 183.0C83.5 182.2 85.3 179.0 86.3 177.6C87.3 176.2 87.0 174.2 90.0 173.0C93.0 171.8 103.0 170.6 107.6 169.3C112.2 168.0 119.1 165.5 122.7 164.0C126.3 162.5 130.3 160.2 133.0 158.8C135.7 157.4 139.6 155.4 142.0 154.3C144.4 153.2 147.3 152.3 150.2 151.3C153.1 150.3 159.6 148.0 162.8 147.0C166.0 146.0 169.7 144.4 172.8 144.3C176.0 144.2 181.5 145.9 185.3 146.3C189.1 146.7 195.8 147.0 200.0 147.5C204.2 148.0 210.8 149.1 215.0 149.8C219.2 150.5 225.1 152.1 230.0 152.8C234.9 153.5 244.7 153.7 250.0 154.6C255.3 155.5 262.8 157.7 267.7 159.0C272.6 160.3 280.5 162.9 285.0 164.0C289.5 165.1 296.1 166.3 300.0 167.0C303.9 167.7 310.0 168.2 312.8 169.0C315.6 169.8 319.1 171.8 320.3 172.9C321.5 174.0 321.7 175.2 321.5 176.6C321.3 178.0 320.2 181.2 319.0 182.9C317.8 184.6 315.0 187.4 312.8 189.0C310.6 190.6 305.7 193.3 303.2 194.4C300.7 195.5 298.2 195.8 295.0 197.0C291.8 198.2 284.9 201.5 280.0 203.0C275.1 204.5 264.2 206.8 260.0 208.0C255.8 209.2 252.8 210.4 250.0 211.5C247.2 212.6 242.7 214.9 240.0 216.0C237.3 217.1 234.5 218.0 230.4 219.5C226.3 221.0 216.0 224.8 210.4 226.5C204.8 228.2 195.9 230.2 190.3 231.5C184.7 232.8 175.6 235.7 170.3 236.0C165.0 236.3 158.0 234.8 152.7 234.0C147.4 233.2 138.7 231.4 132.7 230.2C126.7 229.0 115.3 226.9 110.0 225.2C104.7 223.4 98.8 220.1 95.0 217.7C91.2 215.2 84.7 209.1 83.0 207.7"/>
<path d="M120.0 197.0C120.0 194.4 124.5 190.0 127.7 187.6C130.9 185.2 138.1 181.8 142.7 180.0C147.3 178.2 155.7 176.0 160.3 175.0C164.9 174.0 170.8 173.2 175.3 173.0C179.9 172.8 187.2 173.1 192.8 173.8C198.4 174.5 210.1 176.6 215.4 178.0C220.7 179.4 227.7 182.0 230.4 183.9C233.1 185.8 234.7 189.1 234.7 191.4C234.7 193.7 232.4 197.8 230.4 200.0C228.4 202.2 223.9 205.0 220.4 207.0C216.9 209.0 209.6 212.3 205.4 214.0C201.2 215.7 194.9 218.1 190.3 219.0C185.7 219.9 177.7 220.7 172.8 220.7C167.9 220.7 159.8 219.9 155.2 219.0C150.6 218.1 144.0 215.8 140.2 214.0C136.3 212.2 130.5 208.8 127.7 206.4C124.9 204.0 120.0 199.6 120.0 197.0Z"/>
<path d="M189.6 197.6C189.6 198.8 188.7 200.9 187.7 202.0C186.7 203.1 184.2 204.6 182.5 205.2C180.7 205.8 177.3 206.4 175.3 206.4C173.3 206.4 169.9 205.8 168.2 205.2C166.4 204.6 163.9 203.1 162.9 202.0C161.9 200.9 161.0 198.8 161.0 197.6C161.0 196.4 161.9 194.3 162.9 193.2C163.9 192.1 166.4 190.6 168.2 190.0C169.9 189.4 173.3 188.8 175.3 188.8C177.3 188.8 180.7 189.4 182.5 190.0C184.2 190.6 186.7 192.1 187.7 193.2C188.7 194.3 189.6 196.4 189.6 197.6Z"/>
<path d="M379.0 193.0C379.6 192.1 382.2 188.5 383.4 186.9C384.6 185.3 385.9 183.2 387.9 181.4C389.9 179.6 394.8 175.5 398.0 174.0C401.2 172.5 407.4 171.8 410.5 170.8C413.6 169.8 417.3 168.5 420.0 167.0C422.7 165.5 426.5 161.7 430.0 160.0C433.5 158.3 440.8 155.9 445.0 154.8C449.2 153.7 453.0 152.9 460.0 152.2C467.0 151.5 484.8 150.0 495.0 149.5C505.2 149.0 523.7 148.8 532.8 148.6C541.9 148.4 553.4 148.5 560.0 148.3C566.6 148.1 576.1 147.2 579.8 147.0C583.5 146.8 584.2 147.0 586.7 146.9C589.2 146.8 594.0 146.4 598.0 146.2C602.0 146.0 609.1 145.7 615.0 145.6C620.9 145.5 633.0 145.8 640.0 145.2C647.0 144.6 658.9 142.5 665.2 141.5C671.5 140.5 680.3 138.9 685.2 137.8C690.1 136.8 697.1 135.6 700.3 134.0C703.5 132.4 706.9 128.9 707.8 126.5C708.7 124.0 707.0 118.9 706.5 116.5C706.0 114.1 703.6 111.6 704.5 109.7C705.4 107.8 709.2 104.2 712.8 102.7C716.4 101.2 725.8 100.1 730.4 99.0C735.0 97.9 740.5 96.2 745.4 94.7C750.3 93.2 761.2 89.4 765.4 88.0C769.6 86.6 773.6 85.7 775.5 84.6C777.4 83.5 778.9 81.3 779.2 80.0C779.6 78.7 777.3 76.7 778.0 75.0C778.7 73.3 782.5 69.7 784.2 67.6C785.9 65.5 789.3 61.9 790.0 60.0C790.7 58.1 789.7 55.1 789.2 53.8C788.7 52.5 787.1 51.0 786.7 50.5"/>
<path d="M800.5 224.9C799.8 224.8 797.2 224.4 795.5 224.2C793.8 224.0 790.8 222.9 788.0 223.2C785.2 223.5 779.3 225.2 775.4 226.5C771.5 227.8 763.9 230.4 760.4 232.7C756.9 235.0 753.0 240.3 750.4 242.8C747.8 245.3 745.1 250.7 741.6 250.3C738.1 250.0 730.0 242.7 725.3 240.3C720.6 237.9 713.1 234.6 707.8 233.2C702.5 231.8 694.0 231.1 687.7 230.2C681.4 229.3 669.4 227.1 662.7 226.5C656.0 225.9 645.3 226.1 640.0 226.0C634.7 225.9 630.0 225.6 625.0 225.7C620.0 225.8 608.1 226.4 604.0 226.5C599.9 226.6 600.1 226.8 595.4 226.5C590.7 226.2 577.4 224.8 570.4 224.0C563.4 223.2 552.3 221.8 545.3 220.7C538.3 219.6 527.3 217.2 520.3 216.4C513.3 215.6 502.0 214.9 495.0 214.7C488.0 214.5 477.0 215.1 470.0 215.2C463.0 215.3 450.5 215.9 445.0 215.7C439.5 215.5 434.0 214.2 430.5 213.7C427.0 213.2 423.5 212.8 420.0 212.4C416.5 212.0 409.9 211.5 405.4 210.6C400.9 209.7 391.2 207.3 387.9 206.0C384.6 204.7 382.8 202.8 381.6 201.0C380.4 199.2 379.4 194.1 379.0 193.0"/>
<path d="M413.0 192.4C414.3 190.7 420.6 182.8 422.6 180.4C424.6 178.0 425.8 176.6 427.5 175.0C429.2 173.4 433.2 170.4 435.0 169.0C436.8 167.6 437.9 166.4 440.0 165.0C442.1 163.6 445.8 160.1 450.0 159.0C454.2 157.9 465.4 157.2 470.0 156.8C474.6 156.4 478.5 156.3 482.7 155.9C486.9 155.5 495.0 154.0 500.3 153.6C505.6 153.2 515.0 152.9 520.3 153.0C525.5 153.1 532.2 153.8 537.8 154.0C543.4 154.2 554.7 154.3 560.0 154.3C565.3 154.3 570.4 154.0 575.4 153.9C580.4 153.8 589.9 153.9 595.4 153.9C600.9 153.9 609.7 153.8 615.0 154.0C620.3 154.2 627.7 155.5 633.0 155.3C638.3 155.1 646.4 153.7 652.7 152.8C659.0 151.9 672.5 149.9 677.7 149.0C682.9 148.1 686.5 147.3 690.0 146.4C693.5 145.5 699.3 143.7 702.8 142.6C706.3 141.5 711.4 139.9 715.0 138.8C718.6 137.7 725.6 135.8 728.7 135.0C731.8 134.2 736.1 134.5 737.0 132.8C737.9 131.1 735.9 125.2 735.4 122.7C734.9 120.2 733.2 117.1 733.4 115.2C733.6 113.3 734.2 110.5 736.6 109.0C739.0 107.5 745.7 106.0 750.4 104.7C755.1 103.4 765.6 100.9 770.5 100.0C775.4 99.1 781.3 98.3 785.5 98.0C789.7 97.7 798.4 97.7 800.5 97.7"/>
<path d="M800.5 190.0C799.1 190.3 793.3 191.2 790.5 191.9C787.7 192.6 784.0 193.9 780.5 195.0C777.0 196.1 770.3 197.9 765.4 199.5C760.5 201.1 751.7 205.3 745.4 206.7C739.1 208.1 726.6 209.5 720.3 209.7C714.0 209.9 706.3 208.7 700.3 208.0C694.3 207.3 682.6 206.0 677.7 205.0C672.8 204.0 667.8 202.2 665.2 200.9C662.6 199.6 662.8 196.0 658.9 195.6C655.0 195.2 642.3 197.7 637.6 198.0C632.9 198.3 627.3 198.4 625.0 197.6C622.7 196.8 622.7 192.9 621.3 192.0C619.9 191.1 616.9 190.6 615.0 190.9C613.1 191.2 609.6 192.9 607.5 193.9C605.4 194.9 602.5 197.3 600.0 198.0C597.5 198.7 593.4 198.8 590.0 199.0C586.6 199.2 581.0 198.8 575.4 199.6C569.8 200.4 558.0 203.9 550.3 204.7C542.6 205.5 528.0 205.1 520.3 205.0C512.6 204.9 502.0 203.8 495.0 204.0C488.0 204.2 477.0 206.5 470.0 206.7C463.0 206.9 450.9 206.1 445.0 205.2C439.1 204.3 432.1 202.1 427.6 200.3C423.1 198.5 415.0 193.5 413.0 192.4"/>
<path d="M443.3 185.0C443.1 183.2 443.7 179.6 445.0 177.6C446.3 175.6 450.1 172.0 452.6 170.4C455.1 168.8 459.8 167.0 463.0 166.0C466.2 165.0 472.1 163.9 475.2 163.2C478.3 162.5 482.2 161.6 485.0 161.0C487.8 160.4 490.6 159.2 495.2 158.9C499.8 158.6 511.5 158.7 517.8 159.0C524.1 159.3 534.4 160.1 540.4 161.0C546.4 161.9 556.0 164.2 560.4 165.3C564.8 166.4 570.0 167.8 571.7 169.0C573.5 170.2 573.8 172.2 572.9 174.0C572.0 175.8 568.6 179.8 565.4 181.6C562.2 183.4 555.2 185.6 550.3 187.0C545.4 188.4 536.6 190.3 530.3 191.4C524.0 192.5 512.2 194.3 505.2 194.9C498.2 195.5 486.9 196.1 480.2 195.9C473.5 195.7 462.3 194.6 457.6 193.8C452.9 193.0 448.3 191.6 446.3 190.4C444.3 189.2 443.5 186.8 443.3 185.0Z"/>
<path d="M481.5 177.9C481.5 176.5 483.9 173.9 486.5 172.4C489.1 170.9 496.6 167.8 500.3 167.3C504.0 166.8 509.8 167.8 512.8 168.6C515.8 169.4 520.4 171.6 521.6 172.9C522.8 174.2 523.2 176.6 521.6 177.9C520.0 179.2 513.6 181.5 510.3 182.4C507.0 183.3 501.0 184.0 497.7 184.0C494.4 184.0 488.8 183.3 486.5 182.4C484.2 181.5 481.5 179.3 481.5 177.9Z"/>
<path d="M800.5 137.3C797.0 137.2 781.1 136.4 775.5 136.5C769.9 136.6 765.3 137.4 760.4 138.3C755.5 139.2 745.7 141.3 740.4 142.8C735.1 144.3 726.7 147.2 722.8 149.0C718.9 150.8 715.4 153.6 712.8 155.3C710.2 157.0 705.9 159.4 704.5 161.0C703.1 162.6 703.0 165.3 702.8 167.0C702.6 168.7 702.3 171.4 703.0 173.0C703.7 174.6 705.4 176.8 707.8 178.2C710.2 179.6 716.4 181.8 720.3 182.9C724.2 184.0 731.2 185.8 735.4 185.9C739.6 186.0 746.9 184.4 750.4 183.4C753.9 182.4 757.9 180.5 760.4 179.0C762.9 177.5 765.5 174.5 768.0 172.9C770.5 171.3 774.9 168.5 778.0 167.3C781.1 166.1 787.4 164.7 790.5 164.0C793.6 163.3 799.1 162.5 800.5 162.3"/>
<path d="M774.2 109.2C774.2 108.8 777.2 107.3 778.0 107.2C778.8 107.1 789.7 107.1 790.5 107.2C791.3 107.3 794.3 109.3 794.3 109.7C794.3 110.1 791.3 114.5 790.5 114.7C789.7 115.0 778.8 115.0 778.0 114.7C777.2 114.4 774.2 109.6 774.2 109.2Z"/>
<path d="M252.5 249.8C252.7 248.8 255.2 246.8 256.3 246.5C257.4 246.2 258.9 248.7 260.0 247.8C261.1 246.9 262.0 242.4 263.8 240.3C265.6 238.2 269.6 234.5 272.6 232.7C275.6 230.9 281.2 228.2 285.0 227.2C288.8 226.1 295.4 225.6 300.0 225.2C304.6 224.8 312.9 224.9 317.7 224.0C322.5 223.1 330.8 219.6 334.0 219.0C337.2 218.4 337.0 219.0 340.3 219.7C343.6 220.4 352.9 223.5 357.8 224.0C362.7 224.5 371.4 223.2 375.3 223.5C379.2 223.8 380.5 226.2 385.4 226.5C390.3 226.8 405.6 225.7 410.4 225.7C415.2 225.7 416.6 225.9 420.0 226.5C423.4 227.1 429.4 229.0 435.0 229.7C440.6 230.4 453.7 231.4 460.0 231.5C466.3 231.6 475.1 231.0 480.0 230.7C484.9 230.3 490.1 228.5 495.0 229.0C499.9 229.5 510.3 232.8 515.2 234.0C520.1 235.2 527.0 236.5 530.3 237.7C533.6 238.9 537.3 241.0 539.0 242.8C540.7 244.6 542.0 248.0 542.3 250.3C542.6 252.6 542.0 256.7 541.0 259.0C540.0 261.3 538.2 264.8 535.3 266.6C532.4 268.4 525.9 270.2 520.3 271.6C514.7 273.0 502.0 275.8 495.0 276.6C488.0 277.4 475.9 277.5 470.0 277.3C464.1 277.1 457.4 276.3 452.6 275.3C447.8 274.3 439.3 271.7 435.5 270.3C431.7 268.9 428.3 266.0 425.5 265.3C422.7 264.6 418.9 265.0 415.4 265.3C411.9 265.6 404.6 266.6 400.4 267.3C396.2 268.0 388.9 269.5 385.4 270.3C381.9 271.1 378.8 273.8 375.3 273.3C371.8 272.8 364.2 268.5 360.3 266.6C356.4 264.7 350.6 261.1 347.8 259.8C345.0 258.5 343.8 257.2 340.3 257.0C336.8 256.8 327.3 257.7 322.7 258.3C318.1 258.9 311.4 260.5 307.7 261.6C304.0 262.7 298.9 265.4 296.4 266.0C293.9 266.6 293.3 267.0 290.0 266.0C286.7 265.0 276.8 260.8 272.6 259.0C268.4 257.2 262.5 253.6 260.0 252.8C257.5 252.0 256.1 253.7 255.0 253.3C253.9 252.9 252.3 250.8 252.5 249.8Z"/>
<path d="M800.5 297.0C799.7 297.1 796.1 297.4 794.6 298.0C793.1 298.6 791.0 301.2 789.6 301.3C788.2 301.4 785.8 298.8 784.6 298.8C783.4 298.8 782.9 300.8 780.8 301.3C778.7 301.8 772.3 303.1 769.5 302.6C766.7 302.1 763.4 299.3 760.8 298.0C758.2 296.7 753.0 294.5 750.7 293.0C748.4 291.5 746.6 286.5 744.5 287.0C742.4 287.5 737.1 293.4 735.7 296.3C734.3 299.2 735.3 303.9 734.4 307.6C733.5 311.3 729.7 319.1 729.4 322.6C729.1 326.1 732.0 330.1 732.4 332.7C732.8 335.3 734.0 338.6 732.0 341.4C730.0 344.2 721.2 349.4 718.2 352.7C715.2 356.0 712.7 361.3 710.6 365.2C708.5 369.1 703.9 376.6 703.1 380.3C702.3 384.0 705.5 388.2 705.1 391.5C704.7 394.8 700.9 401.0 699.9 404.0C698.9 407.0 696.8 410.3 697.6 412.9C698.4 415.5 703.1 420.5 705.6 422.9C708.1 425.3 712.4 427.8 715.6 430.0C718.8 432.2 724.3 436.4 728.2 438.8C732.1 441.2 739.0 444.9 743.2 447.0C747.4 449.1 755.1 452.4 758.3 453.8C761.5 455.2 763.8 455.8 765.8 457.0C767.8 458.2 771.6 460.9 772.8 462.6C774.0 464.3 774.6 466.4 774.5 468.8C774.4 471.2 772.8 477.0 772.0 480.0C771.2 483.0 769.2 487.2 768.8 490.0C768.4 492.8 768.2 496.8 768.8 500.0C769.4 503.2 772.0 509.5 773.3 512.7C774.6 515.9 777.0 520.6 778.3 522.7C779.6 524.8 781.8 526.1 782.6 527.7C783.4 529.3 782.8 532.2 783.8 534.0C784.8 535.8 788.1 538.0 789.6 540.3C791.1 542.6 793.4 547.1 794.6 550.3C795.8 553.4 797.5 560.5 798.3 562.8C799.1 565.1 800.2 566.1 800.5 566.6"/>
<path d="M800.5 335.0C800.3 334.9 797.9 334.2 797.1 333.9C796.3 333.6 789.9 330.4 788.3 330.2C786.7 330.0 775.1 330.0 773.3 330.2C771.5 330.4 763.0 332.9 762.0 333.9C761.0 334.9 757.7 343.6 758.3 344.7C758.9 345.8 769.0 349.4 770.8 350.2C772.6 351.0 783.0 355.8 784.6 356.0C786.2 356.2 793.5 353.0 794.6 352.7C795.7 352.4 800.1 351.6 800.5 351.5"/>
<path d="M83.0 282.9C83.5 283.6 85.7 285.8 86.3 287.9C86.9 290.0 87.8 294.8 87.6 297.9C87.4 301.0 85.6 307.9 85.0 310.4C84.4 312.8 83.3 314.7 83.0 315.4"/>
</g>
</g>
<g font-family="Liberation Sans, Arial, sans-serif" font-size="14.5" font-weight="bold" text-anchor="middle" fill="#000" stroke="#000" stroke-width="0.3">
<text x="142" y="159.5" transform="rotate(-15 142 154.3)">0</text>
<text x="303.2" y="199.6" transform="rotate(-18 303.2 194.4)">0</text>
<text x="383.4" y="192.1" transform="rotate(-35 383.4 186.9)">0</text>
<text x="416" y="146.0" transform="rotate(3 416 140.8)">-0.2</text>
<text x="592.2" y="123.5" transform="rotate(14 592.2 118.3)">-0.2</text>
<text x="463.5" y="172.2" transform="rotate(-24 463.5 167)">0.2</text>
<text x="586.7" y="152.0" transform="rotate(0 586.7 146.8)">0</text>
<text x="595.4" y="231.7" transform="rotate(0 595.4 226.5)">0</text>
<text x="713.8" y="161.2" transform="rotate(-33 713.8 156)">0.2</text>
<text x="795.2" y="229.1" transform="rotate(0 795.2 223.9)">0</text>
<text x="699.9" y="409.2" transform="rotate(-72 699.9 404)">0</text>
</g>
<ellipse cx="336.4" cy="133.3" rx="2.3" ry="0.9" fill="none" stroke="#000" stroke-width="0.8"/>
<ellipse cx="800.6" cy="337.6" rx="3.2" ry="4.4" fill="#000" clip-path="url(#cp)"/>
<path d="M800 577.5C796 577 796 583 800 582.5" fill="none" stroke="#000" stroke-width="1.3"/>
<path d="M799.6 606C798.2 612 798.4 625 799.6 632" fill="none" stroke="#000" stroke-width="1" shape-rendering="crispEdges"/>
<rect x="800" y="51" width="1" height="588" fill="#000" shape-rendering="crispEdges"/>
<path d="M863.2 137.8L865.0 143.0L866.3 158.0L867.0 179.7L868.0 200.0L868.0 639.0L840.0 639.0L840.0 607.0L841.0 607.0L841.0 476.0L842.0 476.0L842.1 298.0L842.9 252.2L843.9 234.4L845.4 226.8L847.2 204.0L849.0 181.0L851.0 163.2L853.0 151.8L854.8 148.7L856.6 150.0L859.2 148.0L861.2 140.3Z" fill="#000"/>
<g fill="#000" shape-rendering="crispEdges">
<rect x="81" y="49" width="2" height="592"/>
<rect x="868" y="49" width="2" height="592"/>
<rect x="81" y="49" width="789" height="2"/>
<rect x="81" y="639" width="789" height="2"/>
<rect x="73" y="49" width="8" height="2"/>
<rect x="870" y="49" width="7" height="2"/>
<rect x="76" y="108" width="5" height="2"/>
<rect x="870" y="108" width="7" height="2"/>
<rect x="73" y="167" width="8" height="2"/>
<rect x="870" y="167" width="7" height="2"/>
<rect x="76" y="226" width="5" height="2"/>
<rect x="870" y="226" width="7" height="2"/>
<rect x="73" y="285" width="8" height="2"/>
<rect x="870" y="285" width="7" height="2"/>
<rect x="76" y="344" width="5" height="2"/>
<rect x="870" y="344" width="7" height="2"/>
<rect x="73" y="403" width="8" height="2"/>
<rect x="870" y="403" width="7" height="2"/>
<rect x="76" y="462" width="5" height="2"/>
<rect x="870" y="462" width="7" height="2"/>
<rect x="73" y="521" width="8" height="2"/>
<rect x="870" y="521" width="7" height="2"/>
<rect x="76" y="580" width="5" height="2"/>
<rect x="870" y="580" width="7" height="2"/>
<rect x="73" y="639" width="8" height="2"/>
<rect x="870" y="639" width="7" height="2"/>
<rect x="868" y="42" width="2" height="7"/>
<rect x="868" y="641" width="2" height="7"/>
<rect x="812" y="44" width="2" height="5"/>
<rect x="812" y="641" width="2" height="4"/>
<rect x="756" y="42" width="2" height="7"/>
<rect x="756" y="641" width="2" height="7"/>
<rect x="701" y="44" width="2" height="5"/>
<rect x="701" y="641" width="2" height="4"/>
<rect x="645" y="42" width="2" height="7"/>
<rect x="645" y="641" width="2" height="7"/>
<rect x="590" y="44" width="2" height="5"/>
<rect x="590" y="641" width="2" height="4"/>
<rect x="534" y="42" width="2" height="7"/>
<rect x="534" y="641" width="2" height="7"/>
<rect x="479" y="44" width="2" height="5"/>
<rect x="479" y="641" width="2" height="4"/>
<rect x="423" y="42" width="2" height="7"/>
<rect x="423" y="641" width="2" height="7"/>
<rect x="367" y="44" width="2" height="5"/>
<rect x="367" y="641" width="2" height="4"/>
<rect x="312" y="42" width="2" height="7"/>
<rect x="312" y="641" width="2" height="7"/>
<rect x="256" y="44" width="2" height="5"/>
<rect x="256" y="641" width="2" height="4"/>
<rect x="201" y="42" width="2" height="7"/>
<rect x="201" y="641" width="2" height="7"/>
<rect x="145" y="44" width="2" height="5"/>
<rect x="145" y="641" width="2" height="4"/>
<rect x="90" y="42" width="2" height="7"/>
<rect x="90" y="641" width="2" height="7"/>
<path d="M78.0 30L87.0 30L82.5 37Z" shape-rendering="auto"/>
<path d="M104.0 30L113.0 30L108.5 37Z" shape-rendering="auto"/>
<path d="M131.0 30L140.0 30L135.5 37Z" shape-rendering="auto"/>
<path d="M170.0 30L179.0 30L174.5 37Z" shape-rendering="auto"/>
<path d="M210.0 30L219.0 30L214.5 37Z" shape-rendering="auto"/>
<path d="M250.0 30L259.0 30L254.5 37Z" shape-rendering="auto"/>
<path d="M290.0 30L299.0 30L294.5 37Z" shape-rendering="auto"/>
<path d="M331.0 30L340.0 30L335.5 37Z" shape-rendering="auto"/>
<path d="M372.0 30L381.0 30L376.5 37Z" shape-rendering="auto"/>
<path d="M411.0 30L420.0 30L415.5 37Z" shape-rendering="auto"/>
<path d="M451.0 30L460.0 30L455.5 37Z" shape-rendering="auto"/>
<path d="M491.0 30L500.0 30L495.5 37Z" shape-rendering="auto"/>
<path d="M531.0 30L540.0 30L535.5 37Z" shape-rendering="auto"/>
<path d="M572.0 30L581.0 30L576.5 37Z" shape-rendering="auto"/>
<path d="M612.0 30L621.0 30L616.5 37Z" shape-rendering="auto"/>
<path d="M653.0 30L662.0 30L657.5 37Z" shape-rendering="auto"/>
<path d="M673.0 30L682.0 30L677.5 37Z" shape-rendering="auto"/>
<path d="M694.0 30L703.0 30L698.5 37Z" shape-rendering="auto"/>
<path d="M714.0 30L723.0 30L718.5 37Z" shape-rendering="auto"/>
<path d="M735.0 30L744.0 30L739.5 37Z" shape-rendering="auto"/>
<path d="M755.0 30L764.0 30L759.5 37Z" shape-rendering="auto"/>
<path d="M775.0 30L784.0 30L779.5 37Z" shape-rendering="auto"/>
<path d="M796.0 30L805.0 30L800.5 37Z" shape-rendering="auto"/>
<path d="M816.0 30L825.0 30L820.5 37Z" shape-rendering="auto"/>
<path d="M830.0 30L839.0 30L834.5 37Z" shape-rendering="auto"/>
<path d="M844.0 30L853.0 30L848.5 37Z" shape-rendering="auto"/>
<path d="M864.0 30L873.0 30L868.5 37Z" shape-rendering="auto"/>
</g>
<g font-family="Liberation Sans, Arial, sans-serif" fill="#000">
<text x="475.2" y="23" font-size="25.05" text-anchor="middle">Salinity anomaly along Line-P - Nov. 2004</text>
<text x="475.5" y="701.6" font-size="22.25" text-anchor="middle">Distance along Line-P (km)</text>
<text transform="translate(23.3 345.4) rotate(-90)" font-size="24.8" text-anchor="middle">Pressure (dbar)</text>
<text x="73.3" y="56.8" font-size="20" text-anchor="end">0</text>
<text x="73.3" y="174.8" font-size="20" text-anchor="end">100</text>
<text x="73.3" y="292.8" font-size="20" text-anchor="end">200</text>
<text x="73.3" y="410.8" font-size="20" text-anchor="end">300</text>
<text x="73.3" y="528.8" font-size="20" text-anchor="end">400</text>
<text x="73.3" y="646.8" font-size="20" text-anchor="end">500</text>
<text x="869.0" y="666.2" font-size="20" text-anchor="middle">0</text>
<text x="757.9" y="666.2" font-size="20" text-anchor="middle">200</text>
<text x="646.7" y="666.2" font-size="20" text-anchor="middle">400</text>
<text x="535.6" y="666.2" font-size="20" text-anchor="middle">600</text>
<text x="424.4" y="666.2" font-size="20" text-anchor="middle">800</text>
<text x="313.3" y="666.2" font-size="20" text-anchor="middle">1000</text>
<text x="202.2" y="666.2" font-size="20" text-anchor="middle">1200</text>
<text x="91.0" y="666.2" font-size="20" text-anchor="middle">1400</text>
</g>
</svg>
</body></html>
